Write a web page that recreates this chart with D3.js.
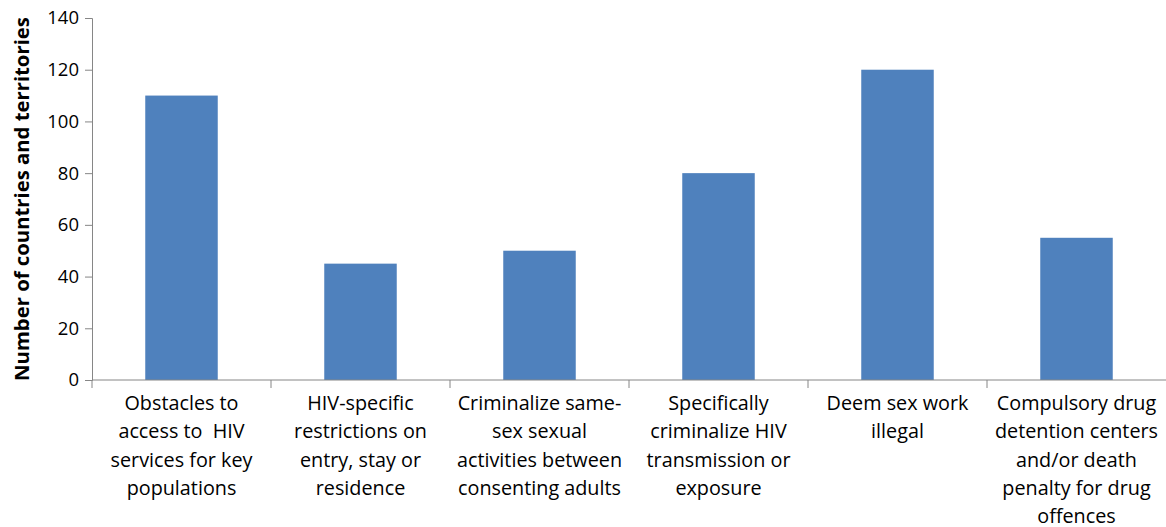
<!DOCTYPE html>
<html>
<head>
<meta charset="utf-8">
<script src="https://cdn.jsdelivr.net/npm/d3@7"></script>
<style>
  body { margin: 0; background: #fff; }
  text { font-family: "Open Sans", sans-serif; fill: #000; }
</style>
</head>
<body>
<svg id="chart" width="1166" height="527"></svg>
<script>
var categories = [
  ["Obstacles to", "access to  HIV", "services for key", "populations"],
  ["HIV-specific", "restrictions on", "entry, stay or", "residence"],
  ["Criminalize same-", "sex sexual", "activities between", "consenting adults"],
  ["Specifically", "criminalize HIV", "transmission or", "exposure"],
  ["Deem sex work", "illegal"],
  ["Compulsory drug", "detention centers", "and/or death", "penalty for drug", "offences"]
];
var values = [110, 45, 50, 80, 120, 55];
var yTicks = [0, 20, 40, 60, 80, 100, 120, 140];

var svg = d3.select("#chart");
var plotLeft = 92, plotRight = 1166, plotTop = 18, plotBottom = 380;

var x = d3.scaleBand().domain(d3.range(categories.length)).range([plotLeft, plotRight]).paddingInner(0.595).paddingOuter(0.2975);
var y = d3.scaleLinear().domain([0, 140]).range([plotBottom, plotTop]);

// bars
svg.selectAll("rect.bar").data(values).enter().append("rect")
  .attr("class", "bar")
  .attr("x", function(d, i) { return x(i); })
  .attr("width", x.bandwidth())
  .attr("y", function(d) { return y(d); })
  .attr("height", function(d) { return plotBottom - y(d); })
  .attr("fill", "#4F81BD");

// y axis
var yaxis = d3.axisLeft(y).tickValues(yTicks).tickSize(7).tickPadding(6);
var gy = svg.append("g").attr("transform", "translate(" + plotLeft + ",0)").call(yaxis);
gy.select(".domain").attr("stroke", "#868686");
gy.selectAll(".tick line").attr("stroke", "#868686");
gy.selectAll(".tick text").style("font-size", "18.5px").style("font-family", "'Open Sans', sans-serif").attr("fill", "#000");

// x axis line with category separators
var step = x.step();
var bounds = d3.range(categories.length).map(function(i) { return plotLeft + i * step; });
svg.append("line").attr("x1", plotLeft).attr("x2", plotRight).attr("y1", plotBottom).attr("y2", plotBottom)
  .attr("stroke", "#868686");
svg.selectAll("line.sep").data(bounds).enter().append("line")
  .attr("class", "sep")
  .attr("x1", function(d) { return d; }).attr("x2", function(d) { return d; })
  .attr("y1", plotBottom).attr("y2", plotBottom + 8)
  .attr("stroke", "#868686");

// category labels
var labels = svg.selectAll("text.cat").data(categories).enter().append("text")
  .attr("class", "cat")
  .attr("text-anchor", "middle")
  .style("font-size", "19.8px");
labels.each(function(lines, i) {
  var t = d3.select(this);
  lines.forEach(function(line, j) {
    t.append("tspan")
      .attr("x", x(i) + x.bandwidth() / 2)
      .attr("y", 410 + j * 28.3)
      .attr("xml:space", "preserve")
      .text(line);
  });
});

// y axis title
svg.append("text")
  .attr("transform", "translate(29," + ((plotTop + plotBottom) / 2) + ") rotate(-90)")
  .attr("text-anchor", "middle")
  .style("font-size", "20.3px")
  .style("font-weight", "bold")
  .text("Number of countries and territories");
</script>
</body>
</html>
